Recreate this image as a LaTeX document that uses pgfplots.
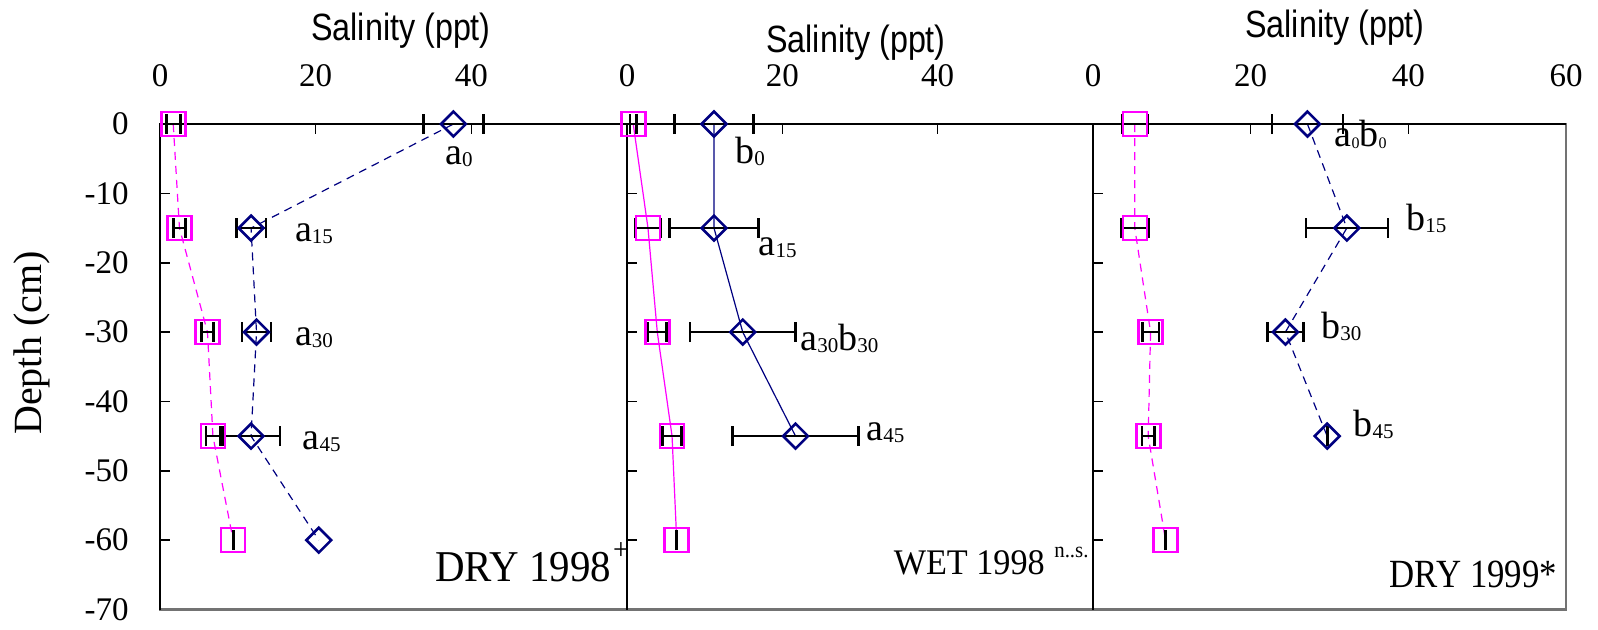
\documentclass[border=0pt]{standalone}
\usepackage{fontspec}
\setmainfont{Liberation Serif}
\newfontfamily\salfont{Liberation Sans}
\usepackage{graphicx}
\usepackage{pgfplots}
\pgfplotsset{compat=1.18}
\usepackage{pgfplotstable}

\definecolor{mag}{RGB}{255,0,255}
\definecolor{nav}{RGB}{0,0,128}

\newcommand\sub[1]{{\fontsize{10.5}{10}\selectfont\raisebox{-1pt}{#1}}}
\newcommand\lab{\fontsize{19}{20}\selectfont}
\newcommand\sal{\scalebox{0.85}[1]{\salfont\fontsize{19}{20}\selectfont Salinity (ppt)}}

% Panel 1: DRY 1998
\pgfplotstableread{
x y e
1.7 0 0.9
2.5 -15 0.8
6.1 -30 0.8
6.8 -45 0.9
9.4 -60 0.02
}\sqA
\pgfplotstableread{
x y
37.7 0
11.7 -15
12.4 -30
11.7 -45
20.4 -60
}\diA
\pgfplotstableread{
x y e
37.7 0 3.85
11.7 -15 1.9
12.4 -30 1.85
11.7 -45 3.7
}\diAe
% Panel 2: WET 1998
\pgfplotstableread{
x y e
0.8 0 0.4
2.7 -15 1.6
3.9 -30 1.2
5.8 -45 1.2
6.4 -60 0.02
}\sqB
\pgfplotstableread{
x y e
11.2 0 5.1
11.2 -15 5.7
14.9 -30 6.8
21.7 -45 8.1
}\diB
% Panel 3: DRY 1999
\pgfplotstableread{
x y e
5.3 0 1.6
5.3 -15 1.7
7.3 -30 1.05
7.0 -45 0.8
9.2 -60 0.02
}\sqC
\pgfplotstableread{
x y e
27.2 0 4.5
32.2 -15 5.2
24.4 -30 2.3
29.7 -45 0.02
}\diC

\pgfplotsset{
  panel/.style={
    scale only axis, height=242.75pt, anchor=south west,
    xmin=0, xmax=60, ymin=-70, ymax=0,
    clip=false,
    axis line style={black!55, line width=1.2pt},
    xtick={0,20,40,60}, ytick={-70,-60,-50,-40,-30,-20,-10,0},
    xtick pos=right, xticklabel pos=right, ytick pos=left,
    tick align=inside, major tick length=5pt,
    tick style={black, line width=0.8pt},
    ticklabel style={font=\fontsize{16.5}{18}\selectfont},
    xticklabel style={anchor=base, yshift=19pt},
    yticklabel style={anchor=east, inner sep=0pt, xshift=-15.5pt},
  },
  sqstyle/.style={mag, line width=0.6pt, mark=square, mark size=6pt,
    mark options={solid, line width=1.3pt}},
  distyle/.style={nav, line width=0.6pt, mark=square, mark size=4.4pt,
    mark options={solid, rotate=45, line width=1.3pt}},
  eb/.style={draw=none, mark=none,
    error bars/.cd, x dir=both, x explicit,
    error bar style={draw=black, solid, line width=1.3pt},
    error mark=|,
    error mark options={draw=black, solid, line width=1.3pt, mark size=5pt}},
  dsh/.style={dash pattern=on 4pt off 3pt},
}

\begin{document}
\begin{tikzpicture}
\useasboundingbox (0,0) rectangle (799pt,314.5pt);

% ---------- Panel 1 ----------
\begin{axis}[panel, at={(80pt,9.75pt)}, width=233.5pt,
  xticklabels={0,20,40,{}},
  yticklabels={-70,-60,-50,-40,-30,-20,-10,0}]
\addplot[sqstyle, dsh] table[x=x,y=y] {\sqA};
\addplot[eb] table[x=x,y=y,x error=e] {\sqA};
\addplot[distyle, dsh] table[x=x,y=y] {\diA};
\addplot[eb] table[x=x,y=y,x error=e] {\diAe};
\draw[black, line width=0.9pt] (rel axis cs:0,0) -- (rel axis cs:0,1) -- (rel axis cs:1,1);
\node[anchor=base west, inner sep=0pt] at (axis cs:36.6,-5.9) {\lab a\sub{0}};
\node[anchor=base west, inner sep=0pt] at (axis cs:17.3,-17.0) {\lab a\sub{15}};
\node[anchor=base west, inner sep=0pt] at (axis cs:17.3,-31.9) {\lab a\sub{30}};
\node[anchor=base west, inner sep=0pt] at (axis cs:18.3,-46.9) {\lab a\sub{45}};
\node[anchor=base west, inner sep=0pt] at (axis cs:35.3,-66.0)
  {\scalebox{0.93}[1]{\fontsize{22}{24}\selectfont DRY 1998\hspace{1pt}\raisebox{11pt}{\fontsize{15}{15}\selectfont +}}};
\end{axis}

% ---------- Panel 2 ----------
\begin{axis}[panel, at={(313.5pt,9.75pt)}, width=233pt,
  xticklabels={0,20,40,{}}, yticklabels={}]
\addplot[sqstyle] table[x=x,y=y] {\sqB};
\addplot[eb] table[x=x,y=y,x error=e] {\sqB};
\addplot[distyle] table[x=x,y=y] {\diB};
\addplot[eb] table[x=x,y=y,x error=e] {\diB};
\draw[black, line width=0.9pt] (rel axis cs:0,0) -- (rel axis cs:0,1) -- (rel axis cs:1,1);
\node[anchor=base west, inner sep=0pt] at (axis cs:13.9,-5.7) {\lab b\sub{0}};
\node[anchor=base west, inner sep=0pt] at (axis cs:16.9,-18.9) {\lab a\sub{15}};
\node[anchor=base west, inner sep=0pt] at (axis cs:22.3,-32.6) {\lab a\sub{30}b\sub{30}};
\node[anchor=base west, inner sep=0pt] at (axis cs:30.8,-45.6) {\lab a\sub{45}};
\node[anchor=base west, inner sep=0pt] at (axis cs:34.3,-65.0)
  {\scalebox{0.95}[1]{\fontsize{18}{20}\selectfont WET 1998\hspace{5pt}\raisebox{8.5pt}{\fontsize{11}{11}\selectfont n..s.}}};
\end{axis}

% ---------- Panel 3 ----------
\begin{axis}[panel, at={(546.5pt,9.75pt)}, width=236.5pt,
  xticklabels={0,20,40,60}, yticklabels={}]
\addplot[sqstyle, dsh] table[x=x,y=y] {\sqC};
\addplot[eb] table[x=x,y=y,x error=e] {\sqC};
\addplot[distyle, dsh] table[x=x,y=y] {\diC};
\addplot[eb] table[x=x,y=y,x error=e] {\diC};
\draw[black, line width=0.9pt] (rel axis cs:0,0) -- (rel axis cs:0,1) -- (rel axis cs:1,1);
\node[anchor=base west, inner sep=0pt] at (axis cs:30.6,-3.3)
  {\lab a{\fontsize{8}{8}\selectfont\raisebox{-1pt}{0}}b{\fontsize{8}{8}\selectfont\raisebox{-1pt}{0}}};
\node[anchor=base west, inner sep=0pt] at (axis cs:39.7,-15.3) {\lab b\sub{15}};
\node[anchor=base west, inner sep=0pt] at (axis cs:28.9,-30.9) {\lab b\sub{30}};
\node[anchor=base west, inner sep=0pt] at (axis cs:33.0,-45.1) {\lab b\sub{45}};
\node[anchor=base west, inner sep=0pt] at (axis cs:37.6,-66.8)
  {\scalebox{0.87}[1]{\fontsize{20}{22}\selectfont DRY 1999*}};
\end{axis}

% ---------- outer labels ----------
\node[rotate=90, inner sep=0pt] at (15.8pt,143pt) {\fontsize{20}{22}\selectfont Depth (cm)};
\node[inner sep=0pt] at (200.5pt,299pt) {\sal};
\node[inner sep=0pt] at (428pt,293pt) {\sal};
\node[inner sep=0pt] at (667.5pt,300.5pt) {\sal};
\end{tikzpicture}
\end{document}
